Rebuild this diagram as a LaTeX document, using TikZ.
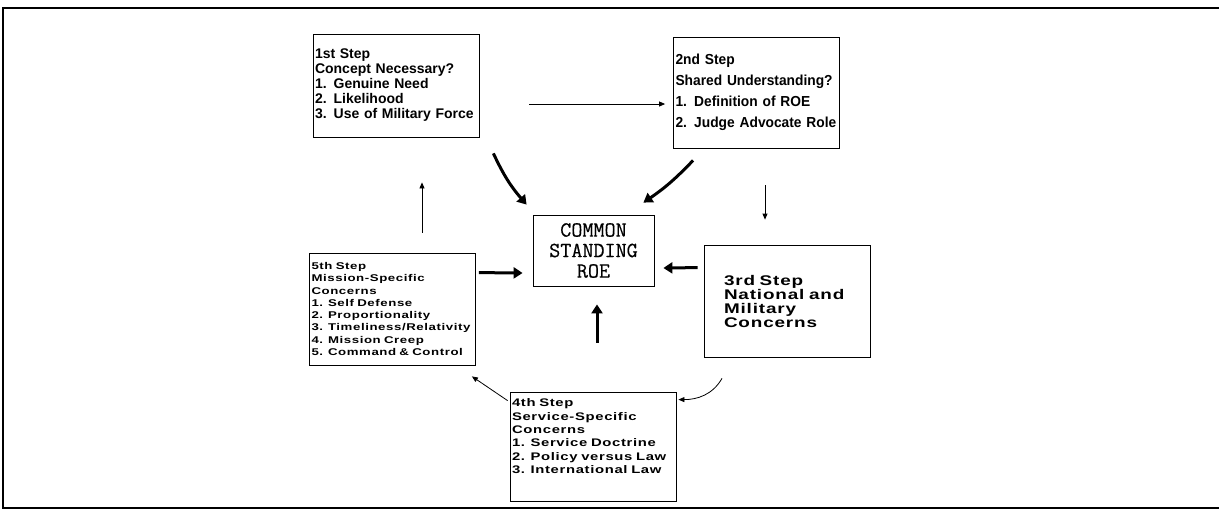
\documentclass[tikz,border=0pt]{standalone}
\usepackage{fontspec}
\setmainfont{Liberation Sans}
\newfontfamily\narrowsf[FakeStretch=0.95]{Liberation Sans}
\newfontfamily\widesf[FakeStretch=1.35,LetterSpace=6]{Liberation Sans}
\newfontfamily\roefont[FakeBold=0.5]{Latin Modern Mono}
\usetikzlibrary{arrows.meta,calc}

\tikzstyle{stepbox} = [draw, line width=0.8pt, align=left, text width=162pt, inner xsep=2pt, inner ysep=2pt]
\tikzstyle{roebox} = [draw, line width=0.8pt, align=center, minimum width=121pt, minimum height=71pt, inner sep=2pt]
\tikzstyle{flow} = [line width=0.8pt, -{Triangle[length=6pt,width=5pt]}]
\tikzstyle{feed} = [line width=3pt, -{Triangle[length=9pt,width=11pt]}]

\begin{document}
\begin{tikzpicture}[x=1pt, y=-1pt]
	\useasboundingbox (0,0) rectangle (1219,512);
	\draw[line width=2pt] (1219,8) -- (3,8) -- (3,508) -- (1219,508);

	\node[roebox, font=\roefont\fontsize{21.5}{20.5}\selectfont] (roe) at (593.5,250.5)
		{COMMON\\STANDING\\ROE};

	\node[stepbox, minimum height=103pt, font=\bfseries\fontsize{14}{15}\selectfont] (step1) at (396,85.5)
		{1st Step\\Concept Necessary?\\1. Genuine Need\\2. Likelihood\\3. Use of Military Force};
	\node[stepbox, minimum height=111pt, font=\narrowsf\bfseries\fontsize{14.5}{21}\selectfont] (step2) at (756.5,92.5)
		{2nd Step\\Shared Understanding?\\1. Definition of ROE\\2. Judge Advocate Role};
	\node[stepbox, text width=126pt, inner xsep=20pt, minimum height=112pt, font=\widesf\bfseries\fontsize{14}{14}\selectfont] (step3) at (787,301)
		{3rd Step\\National and\\Military\\Concerns};
	\node[stepbox, minimum height=109pt, font=\widesf\bfseries\fontsize{11}{13.4}\selectfont] (step4) at (593,446.5)
		{4th Step\\Service-Specific\\Concerns\\1. Service Doctrine\\2. Policy versus Law\\3. International Law\\[7pt]\mbox{}};
	\node[stepbox, minimum height=112pt, font=\widesf\bfseries\fontsize{9.8}{12.3}\selectfont] (step5) at (392.5,309)
		{5th Step\\Mission-Specific\\Concerns\\1. Self Defense\\2. Proportionality\\3. Timeliness/Relativity\\4. Mission Creep\\5. Command \& Control};

	% the cycle of steps
	\draw[flow] ($(step1.east)+(50,18.5)$) -- ($(step2.west)+(-8,11.5)$);
	\draw[flow] ($(step2.south)+(8.5,37)$) -- ($(step3.north)+(-22,-25)$);
	\draw[flow] ($(step3.south)+(-65,21)$) to[out=240, in=0] ($(step4.north east)+(2,8)$);
	\draw[flow] ($(step4.north west)+(-2,9)$) -- ($(step5.south east)+(-4,11)$);
	\draw[flow] ($(step5.north)+(29.5,-20)$) -- ($(step1.south)+(26,45)$);

	% every step feeds the common ROE
	\draw[feed] ($(step1.south east)+(14,16)$) to[bend right=8] ($(roe.north west)+(-6,-10)$);
	\draw[feed] ($(step2.south west)+(20,12)$) to[bend left=6] ($(roe.north east)+(-11,-12)$);
	\draw[feed] ($(step3.north west)+(-6,23)$) -- ($(roe.east)+(9,17.5)$);
	\draw[feed] ($(step4.north)+(4,-49)$) -- ($(roe.south)+(3.5,18)$);
	\draw[feed] ($(step5.north east)+(3,20)$) -- ($(roe.west)+(-10,22.5)$);
\end{tikzpicture}
\end{document}
